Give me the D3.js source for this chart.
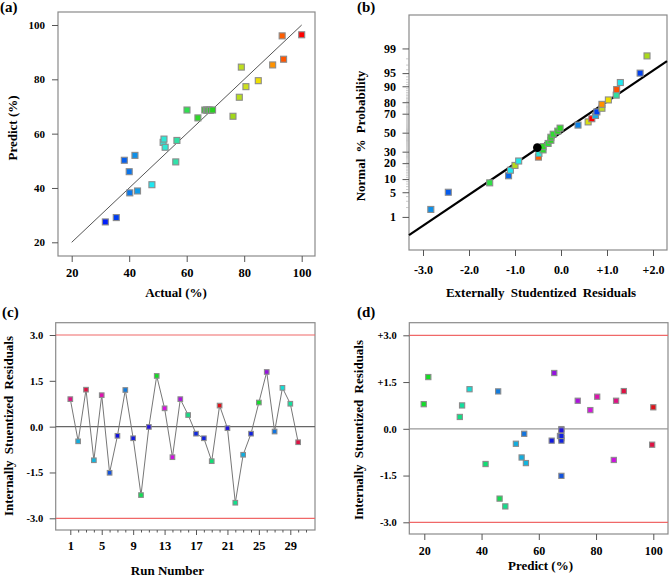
<!DOCTYPE html>
<html>
<head>
<meta charset="utf-8">
<script src="https://cdn.jsdelivr.net/npm/d3@7"></script>
<style>
  body { margin: 0; background: #fff; }
  svg { display: block; font-family: "Liberation Serif", "Times New Roman", serif; font-weight: bold; }
</style>
</head>
<body>
<svg id="chart" width="669" height="577"></svg>
<script>
// ---- (a) actual vs predicted ----
var actual    = [31.7, 35.5, 38.3, 40.0, 40.2, 42.0, 42.9, 47.9, 51.8, 52.1, 52.5, 56.6, 56.2, 60.1, 63.9,
                 66.3, 66.9, 67.3, 67.8, 68.3, 69.0, 76.1, 78.3, 79.0, 80.6, 84.9, 89.9, 93.7, 93.2, 100.0];
var predicted = [27.5, 29.1, 50.2, 46.0, 38.2, 52.0, 38.9, 41.2, 56.8, 58.0, 55.0, 57.5, 49.6, 68.7, 65.8,
                 68.7, 68.7, 68.6, 68.7, 68.6, 68.7, 66.4, 73.4, 84.5, 77.3, 79.5, 85.3, 87.4, 96.0, 96.4];
var pctTicks = [20, 40, 60, 80, 100];

// ---- (b) normal probability of externally studentized residuals ----
var extResid  = [-2.83, -2.45, -1.55, -1.14, -1.10, -1.00, -0.92, -0.49, -0.48, -0.39, -0.39, -0.28, -0.22, -0.22, -0.17,
                 -0.07, -0.02, 0.37, 0.59, 0.67, 0.75, 0.78, 0.89, 0.89, 1.03, 1.20, 1.21, 1.29, 1.72, 1.87];
var normalPct = [1.7, 5.0, 8.3, 11.7, 15.0, 18.3, 21.7, 25.0, 28.3, 31.7, 35.0, 38.3, 41.7, 45.0, 48.3,
                 51.7, 55.0, 58.3, 61.7, 65.0, 68.3, 71.7, 75.0, 78.3, 81.7, 85.0, 88.3, 91.7, 95.0, 98.3];
// response (%) of each point, used for its colour
var normalResp = [42, 38, 61, 39, 48, 78, 49, 93, 52, 63, 64, 62, 65, 64, 63,
                  66, 64, 41, 82, 100, 44, 36, 79, 90, 85, 57, 94, 48, 36, 77];
var highlight = { resid: -0.515, pct: 34 };
var fitMean = 0.0, fitSd = 1.167;
var probTicks = [1, 5, 10, 20, 30, 50, 70, 80, 90, 95, 99];
var residTicksB = [-3, -2, -1, 0, 1, 2];

// ---- (c) / (d) internally studentized residuals by run ----
var runs = [1, 2, 3, 4, 5, 6, 7, 8, 9, 10, 11, 12, 13, 14, 15, 16, 17, 18, 19, 20, 21, 22, 23, 24, 25, 26, 27, 28, 29, 30];
var intResid = [0.90, -0.48, 1.21, -1.10, 1.03, -1.51, -0.30, 1.20, -0.38, -2.24, -0.01, 1.66, 0.60, -1.00, 0.90,
                0.38, -0.23, -0.38, -1.13, 0.69, -0.05, -2.49, -0.92, -0.23, 0.79, 1.79, -0.16, 1.27, 0.75, -0.51];
var runPredicted = [87.0, 52.0, 89.7, 55.5, 80.4, 67.9, 67.9, 45.8, 64.5, 46.3, 67.9, 21.4, 78.0, 86.2, 73.6,
                    32.4, 67.4, 67.9, 41.4, 100.0, 67.9, 48.3, 54.0, 67.9, 19.8, 65.4, 54.9, 35.8, 33.2, 99.6];
// colour factor level of each run (0..1)
var runLevel = [0.86, 0.31, 0.94, 0.30, 0.81, 0.42, 0.50, 0.37, 0.49, 0.08, 0.52, 0.02, 0.74, 0.73, 0.69,
                0.14, 0.47, 0.48, 0.12, 0.99, 0.52, 0.15, 0.31, 0.48, 0.03, 0.66, 0.38, 0.24, 0.17, 0.94];
var runMajor = [1, 5, 9, 13, 17, 21, 25, 29];
var runMinor = [2, 3, 4, 6, 7, 8, 10, 11, 12, 14, 15, 16, 18, 19, 20, 22, 23, 24, 26, 27, 28, 30, 31];
var residTicks = [-3, -1.5, 0, 1.5, 3];

var svg = d3.select("#chart");
svg.append("rect").attr("width", 669).attr("height", 577).attr("fill", "#fff");

var respColour = d3.scaleLinear()
  .domain([30, 36, 42, 48, 53, 57, 60, 64, 69, 76, 80, 85, 90, 94, 100])
  .range(["#0010ff", "#0040f0", "#1090e8", "#20e8f0", "#30e8d0", "#30e0a0", "#30e050", "#30d828", "#28d020",
          "#a0d818", "#c8e020", "#f0e000", "#ff9000", "#ff5000", "#ff0000"])
  .clamp(true);
var hueScale = d3.scaleLinear().domain([0, 1]).range([120, 360]);
function runColour(level) { return d3.hsl(hueScale(level), 0.85, 0.47).toString(); }

// inverse normal CDF (Acklam)
function probit(p) {
  var a = [-3.969683028665376e+01, 2.209460984245205e+02, -2.759285104469687e+02, 1.383577518672690e+02, -3.066479806614716e+01, 2.506628277459239e+00];
  var b = [-5.447609879822406e+01, 1.615858368580409e+02, -1.556989798598866e+02, 6.680131188771972e+01, -1.328068115798215e+01];
  var c = [-7.784894002430293e-03, -3.223964580411365e-01, -2.400758297669748e+00, -2.549732539343734e+00, 4.374664141464968e+00, 2.938163982698783e+00];
  var d = [7.784695709041462e-03, 3.224671290700398e-01, 2.445134137142996e+00, 3.754408661907416e+00];
  var q, r;
  if (p < 0.02425) {
    q = Math.sqrt(-2 * Math.log(p));
    return (((((c[0]*q+c[1])*q+c[2])*q+c[3])*q+c[4])*q+c[5]) / ((((d[0]*q+d[1])*q+d[2])*q+d[3])*q+1);
  }
  if (p > 1 - 0.02425) {
    q = Math.sqrt(-2 * Math.log(1 - p));
    return -(((((c[0]*q+c[1])*q+c[2])*q+c[3])*q+c[4])*q+c[5]) / ((((d[0]*q+d[1])*q+d[2])*q+d[3])*q+1);
  }
  q = p - 0.5; r = q * q;
  return (((((a[0]*r+a[1])*r+a[2])*r+a[3])*r+a[4])*r+a[5])*q / (((((b[0]*r+b[1])*r+b[2])*r+b[3])*r+b[4])*r+1);
}

function frame(x0, y0, x1, y1) {
  svg.append("rect")
    .attr("x", x0).attr("y", y0).attr("width", x1 - x0).attr("height", y1 - y0)
    .attr("fill", "none").attr("stroke", "#8a8a8a").attr("stroke-width", 1.2);
}
function styleAxis(g, size) {
  g.attr("font-family", "Liberation Serif, Times New Roman, serif").attr("font-size", size);
  g.select(".domain").remove();
  g.selectAll(".tick line").attr("stroke", "#555");
  g.selectAll(".tick text").attr("fill", "#000");
}
function label(txt, x, y, size, rotate, spacing) {
  var t = svg.append("text").text(txt)
    .attr("font-size", size).attr("text-anchor", rotate ? "middle" : "start")
    .style("word-spacing", spacing || "0px");
  if (rotate) t.attr("transform", "translate(" + x + "," + y + ") rotate(-90)");
  else t.attr("x", x).attr("y", y);
  return t;
}
function title(txt, x, y, spacing) {
  return svg.append("text").text(txt).attr("x", x).attr("y", y).attr("font-size", "13px")
    .attr("text-anchor", "middle").style("word-spacing", spacing || "0px");
}
function square(sel, size) {
  sel.attr("width", size).attr("height", size)
    .attr("stroke", "#8c8c8c").attr("stroke-width", 1.1);
}

// ================= (a) =================
var xA = d3.scaleLinear().domain([20, 100]).range([71.7, 301.7]);
var yA = d3.scaleLinear().domain([20, 100]).range([242.3, 25]);
frame(58, 12, 315, 256);
svg.append("g").attr("transform", "translate(0,256)")
  .call(d3.axisBottom(xA).tickValues(pctTicks).tickSize(6).tickPadding(6.5))
  .call(styleAxis, "12.5px");
svg.append("g").attr("transform", "translate(58,0)")
  .call(d3.axisLeft(yA).tickValues(pctTicks).tickSize(6).tickPadding(7))
  .call(styleAxis, "11px");
svg.append("line")
  .attr("x1", xA(20)).attr("y1", yA(20)).attr("x2", xA(100)).attr("y2", yA(100))
  .attr("stroke", "#555").attr("stroke-width", 1);
svg.append("g").selectAll("rect").data(d3.range(actual.length)).enter().append("rect")
  .attr("x", i => xA(actual[i]) - 3).attr("y", i => yA(predicted[i]) - 3)
  .attr("fill", i => respColour(actual[i]))
  .call(square, 6);
title("Actual (%)", 176, 297);
label("Predict (%)", 17, 128, "13px", true);
label("(a)", 0, 12, "15px");

// ================= (b) =================
var xB = d3.scaleLinear().domain([0, 1]).range([561, 607]);
var zB = d3.scaleLinear().domain([-3.24, 3.25]).range([250, 15]);
frame(409, 15, 667, 250);
svg.append("g").attr("transform", "translate(0,250)")
  .call(d3.axisBottom(xB).tickValues(residTicksB).tickSize(6).tickPadding(9)
    .tickFormat(d => (d > 0 ? "+" : d < 0 ? "-" : "") + Math.abs(d).toFixed(1)))
  .call(styleAxis, "12px");
var minorPct = d3.range(1, 100).filter(p => probTicks.indexOf(p) < 0);
svg.append("g").attr("transform", "translate(409,0)")
  .call(d3.axisLeft(zB).tickValues(minorPct.map(p => probit(p / 100))).tickSize(3).tickFormat(""))
  .call(styleAxis, "12px")
  .selectAll(".tick line").attr("stroke", "#aaa").attr("stroke-width", 0.6);
svg.append("g").attr("transform", "translate(409,0)")
  .call(d3.axisLeft(zB).tickValues(probTicks.map(p => probit(p / 100))).tickSize(6.5).tickPadding(6.5)
    .tickFormat((d, i) => probTicks[i]))
  .call(styleAxis, "12px");
var xDomB = [xB.invert(409), xB.invert(667)];
svg.append("line")
  .attr("x1", xB(xDomB[0])).attr("y1", zB((xDomB[0] - fitMean) / fitSd))
  .attr("x2", xB(xDomB[1])).attr("y2", zB((xDomB[1] - fitMean) / fitSd))
  .attr("stroke", "#000").attr("stroke-width", 2.2);
svg.append("g").selectAll("rect").data(d3.range(extResid.length)).enter().append("rect")
  .attr("x", i => xB(extResid[i]) - 3).attr("y", i => zB(probit(normalPct[i] / 100)) - 3)
  .attr("fill", i => respColour(normalResp[i]))
  .call(square, 6);
svg.append("circle")
  .attr("cx", xB(highlight.resid)).attr("cy", zB(probit(highlight.pct / 100)))
  .attr("r", 4.3).attr("fill", "#000");
title("Externally Studentized Residuals", 541, 297, "3px");
label("Normal % Probability", 365, 136, "13px", true, "3px");
label("(b)", 357, 12, "15px");

// ================= (c) =================
var xC = d3.scaleLinear().domain([1, 29]).range([70.3, 290.3]);
var yC = d3.scaleLinear().domain([-3, 3]).range([518.3, 335]);
frame(55.7, 322.7, 315, 530);
[3, -3].forEach(function (v) {
  svg.append("line").attr("x1", 55.7).attr("x2", 315).attr("y1", yC(v)).attr("y2", yC(v))
    .attr("stroke", "#f06868").attr("stroke-width", 1.2);
});
svg.append("line").attr("x1", 55.7).attr("x2", 315).attr("y1", yC(0)).attr("y2", yC(0))
  .attr("stroke", "#666").attr("stroke-width", 1.4);
svg.append("g").attr("transform", "translate(0,530)")
  .call(d3.axisBottom(xC).tickValues(runMinor).tickSize(2.5).tickFormat(""))
  .call(styleAxis, "12.5px");
svg.append("g").attr("transform", "translate(0,530)")
  .call(d3.axisBottom(xC).tickValues(runMajor).tickSize(5).tickPadding(6.5))
  .call(styleAxis, "12.5px");
svg.append("g").attr("transform", "translate(55.7,0)")
  .call(d3.axisLeft(yC).tickValues(residTicks).tickSize(6).tickPadding(6.5)
    .tickFormat(d => (d < 0 ? "-" : "") + Math.abs(d).toFixed(1)))
  .call(styleAxis, "10.5px");
svg.append("path")
  .datum(d3.range(runs.length))
  .attr("d", d3.line().x(i => xC(runs[i])).y(i => yC(intResid[i])))
  .attr("fill", "none").attr("stroke", "#777").attr("stroke-width", 1);
svg.append("g").selectAll("rect").data(d3.range(runs.length)).enter().append("rect")
  .attr("x", i => xC(runs[i]) - 2.3).attr("y", i => yC(intResid[i]) - 2.3)
  .attr("fill", i => runColour(runLevel[i]))
  .call(square, 4.6);
title("Run Number", 167.5, 575);
label("Internally Stuentized Residuals", 13, 426, "13px", true, "3px");
label("(c)", 2, 317, "15px");

// ================= (d) =================
var xD = d3.scaleLinear().domain([20, 100]).range([424.3, 653.3]);
var yD = d3.scaleLinear().domain([-3, 3]).range([522.3, 335.3]);
frame(409.3, 322.7, 668, 534);
[3, -3].forEach(function (v) {
  svg.append("line").attr("x1", 409.3).attr("x2", 668).attr("y1", yD(v)).attr("y2", yD(v))
    .attr("stroke", "#f06868").attr("stroke-width", 1.2);
});
svg.append("line").attr("x1", 409.3).attr("x2", 668).attr("y1", yD(0)).attr("y2", yD(0))
  .attr("stroke", "#999").attr("stroke-width", 1.3);
svg.append("g").attr("transform", "translate(0,534)")
  .call(d3.axisBottom(xD).tickValues(pctTicks).tickSize(6).tickPadding(6))
  .call(styleAxis, "12px");
svg.append("g").attr("transform", "translate(409.3,0)")
  .call(d3.axisLeft(yD).tickValues(residTicks).tickSize(6).tickPadding(6.6)
    .tickFormat(d => (d > 0 ? "+" : d < 0 ? "-" : "") + Math.abs(d).toFixed(1)))
  .call(styleAxis, "10.5px");
svg.append("g").selectAll("rect").data(d3.range(runs.length)).enter().append("rect")
  .attr("x", i => xD(runPredicted[i]) - 2.6).attr("y", i => yD(intResid[i]) - 2.6)
  .attr("fill", i => runColour(runLevel[i]))
  .call(square, 5.2);
title("Predict (%)", 540.5, 570);
label("Internally Stuentized Residuals", 363, 430, "13px", true, "3px");
label("(d)", 357, 317, "15px");
</script>
</body>
</html>
